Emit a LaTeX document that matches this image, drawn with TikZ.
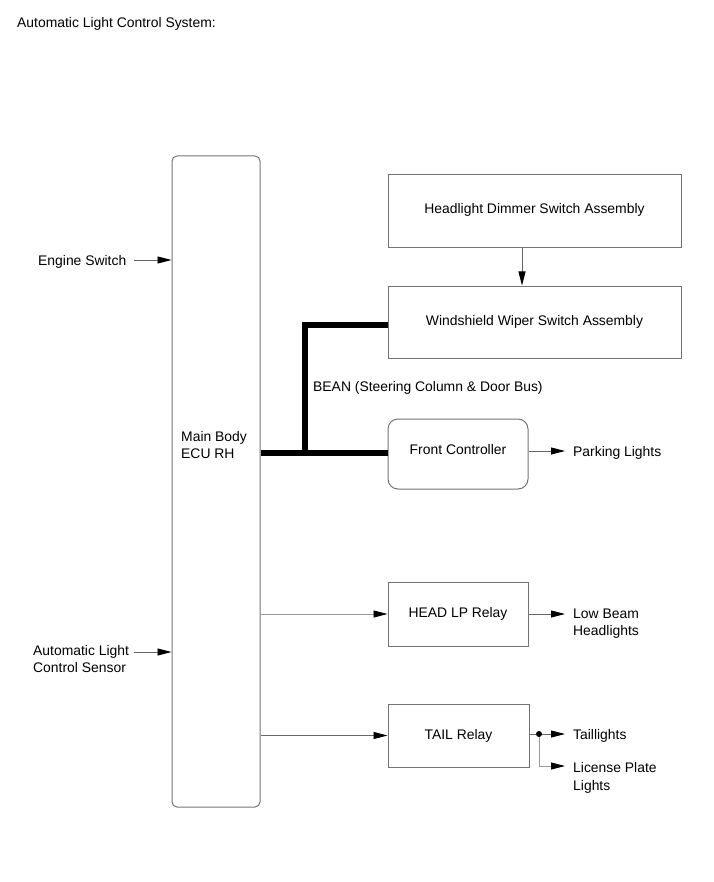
\documentclass[tikz,border=0pt]{standalone}
\usepackage{fontspec}
\setmainfont{Liberation Sans}
\usetikzlibrary{arrows.meta}
\begin{document}
\begin{tikzpicture}[x=1pt,y=-1pt,
  box/.style={draw=black!55,line width=1pt,inner sep=0pt,font=\fontsize{13.9}{17}\selectfont},
  txt/.style={inner sep=0pt,anchor=west,align=left,font=\fontsize{13.9}{17.5}\selectfont},
  arr/.style={draw=black!60,line width=0.9pt,-{Triangle[length=14pt,width=7pt,black]}},
  bus/.style={draw=black,line width=6pt}]
\useasboundingbox (0,0) rectangle (713,882);
\node[txt] (title) at (17,23.5) {Automatic Light Control System:};
% boxes
\node[box,rounded corners=5pt,minimum width=88pt,minimum height=651pt] (ecu) at (216,481.5) {};
\node[txt] (ecutext) at (181,445) {Main Body\\ECU RH};
\node[box,minimum width=293pt,minimum height=73pt] (dimmer) at (534.5,211.5) {\raisebox{6pt}{Headlight Dimmer Switch Assembly}};
\node[box,minimum width=293pt,minimum height=72pt] (wiper) at (534.5,322) {\raisebox{4pt}{Windshield Wiper Switch Assembly}};
\node[box,rounded corners=10pt,minimum width=140pt,minimum height=70pt] (front) at (458,454) {\raisebox{9pt}{Front Controller}};
\node[box,minimum width=140pt,minimum height=64pt] (head) at (458,614) {HEAD LP Relay};
\node[box,minimum width=141pt,minimum height=63pt] (tail) at (458.5,735.5) {TAIL Relay};
% texts
\node[txt] (engine) at (38,262) {Engine Switch};
\node[txt] (sensor) at (33,659) {Automatic Light\\Control Sensor};
\node[txt] (bean) at (313,388) {BEAN (Steering Column \& Door Bus)};
\node[txt] (parking) at (573,453) {Parking Lights};
\node[txt] (lowbeam) at (573,623.5) {Low Beam\\Headlights};
\node[txt] (taillights) at (573,736) {Taillights};
\node[txt] (license) at (573,778) {License Plate\\Lights};
% coordinates
\coordinate (dimx) at (522,0);
\coordinate (junction) at (305,453);
\coordinate (wiperin) at (388,325);
\coordinate (engineout) at (134,260);
\coordinate (sensorout) at (134,652);
\coordinate (parkin) at (573,451);
\coordinate (dot) at (539,734);
\coordinate (branch) at (539,766);
% connectors
\draw[arr] (dimmer.south -| dimx) -- (wiper.north -| dimx);
\draw[bus] (ecu.east |- junction) -- (front.west |- junction);
\draw[bus,line join=miter] (junction) |- (wiperin);
\draw[arr] (engineout) -- (engineout -| ecu.west);
\draw[arr] (sensorout) -- (sensorout -| ecu.west);
\draw[arr,draw=black!40] (ecu.east |- head.west) -- (head.west);
\draw[arr] (ecu.east |- tail.west) -- (tail.west);
\draw[arr,shorten >=8pt] (front.east |- parkin) -- (parkin -| parking.west);
\draw[arr,shorten >=8pt] (head.east) -- (head.east -| lowbeam.west);
\draw[draw=black!60,line width=0.9pt] (tail.east |- dot) -- (dot);
\draw[arr,shorten >=8pt] (dot) -- (dot -| taillights.west);
\draw[arr,draw=black!40,shorten >=8pt] (dot) |- (branch -| license.west);
\fill (dot) circle (3pt);
\end{tikzpicture}
\end{document}
